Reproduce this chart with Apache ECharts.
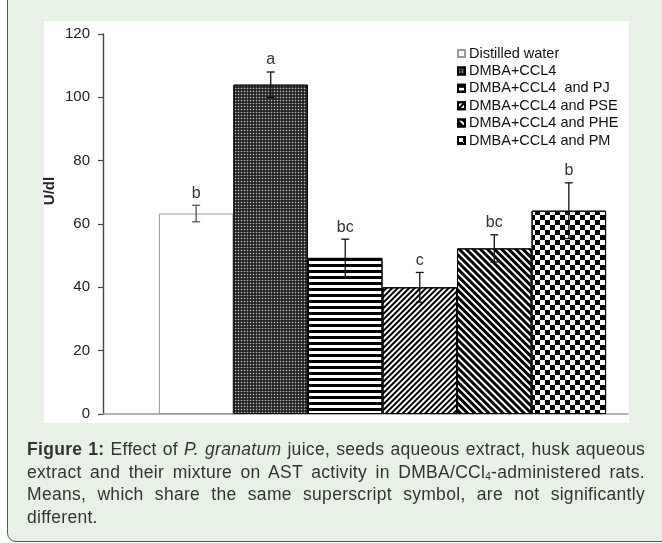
<!DOCTYPE html>
<html>
<head>
<meta charset="utf-8">
<script src="https://cdn.jsdelivr.net/npm/echarts@6/dist/echarts.min.js"></script>
<style>
  html, body { margin: 0; padding: 0; width: 662px; height: 543px; overflow: hidden; background: #ffffff; }
  #frame { position: absolute; left: 7px; top: -10px; width: 680px; height: 552px; box-sizing: border-box;
           border: 1.5px solid #5a5a5a; border-radius: 9px; background: #e8f1e6; }
  #panel { position: absolute; left: 44px; top: 21px; width: 585px; height: 402px; background: #ffffff; }
  #chart { position: absolute; left: 0; top: 0; width: 662px; height: 543px; }
  #caption { position: absolute; left: 27px; top: 438px; width: 618px; font-family: "Liberation Sans", Arial, sans-serif;
             font-size: 17.5px; letter-spacing: 0.3px; line-height: 22.7px; color: #333; }
  #caption .j { text-align: justify; text-align-last: justify; }
  #caption sub { font-size: 10px; line-height: 0; position: relative; top: 2px; vertical-align: baseline; }
</style>
</head>
<body>
<div id="frame"></div>
<div id="panel"></div>
<div id="chart"></div>
<div id="caption">
  <div class="j"><b>Figure 1:</b> Effect of <i>P. granatum</i> juice, seeds aqueous extract, husk aqueous</div>
  <div class="j">extract and their mixture on AST activity in DMBA/CCl<sub>4</sub>-administered rats.</div>
  <div class="j">Means, which share the same superscript symbol, are not significantly</div>
  <div>different.</div>
</div>
<script>
// ---- data ----
const groups = ['Distilled water', 'DMBA+CCL4', 'DMBA+CCL4  and PJ', 'DMBA+CCL4 and PSE', 'DMBA+CCL4 and PHE', 'DMBA+CCL4 and PM'];
const means = [63.3, 104.0, 49.3, 40.0, 52.3, 64.2];
const errors = [2.6, 4.0, 5.9, 4.7, 4.3, 8.8];
const letters = ['b', 'a', 'bc', 'c', 'bc', 'b'];
const yMin = 0, yMax = 120, yStep = 20;
const yAxisName = 'U/dl';

// ---- styles ----
const FONT = '"Liberation Sans", Arial, sans-serif';
const GAP = 0.2;
const styles = [
  { color: '#ffffff', borderColor: '#9a9a9a', borderWidth: 1 },
  { color: '#111111', borderColor: '#000', borderWidth: 1,
    decal: { symbol: 'rect', symbolSize: 0.55, dashArrayX: [3, 0], dashArrayY: [3, 0], color: '#b8b8b8' } },
  { color: '#ffffff', borderColor: '#000', borderWidth: 1,
    decal: { symbol: 'rect', symbolSize: 1, dashArrayX: [1, 0], dashArrayY: [2.7, 2.5], color: '#000' } },
  { color: '#ffffff', borderColor: '#000', borderWidth: 1,
    decal: { symbol: 'rect', symbolSize: 1, dashArrayX: [1, 0], dashArrayY: [1.6, 1.8], rotation: -Math.PI / 4, color: '#000' } },
  { color: '#ffffff', borderColor: '#000', borderWidth: 1,
    decal: { symbol: 'rect', symbolSize: 1, dashArrayX: [1, 0], dashArrayY: [2.2, 1.8], rotation: Math.PI / 4, color: '#000' } },
  { color: '#ffffff', borderColor: '#000', borderWidth: 1,
    decal: { symbol: 'rect', symbolSize: 1, dashArrayX: [[4.3, 4.3], [0, 4.3, 4.3, 0]], dashArrayY: [4.3, 0], color: '#000' } }
];

const chart = echarts.init(document.getElementById('chart'), null, { renderer: 'canvas' });

const barSeries = groups.map((name, i) => ({
  name: name,
  type: 'bar',
  xAxisIndex: 0, yAxisIndex: 0,
  barGap: '0%',
  barCategoryGap: (GAP * 100) + '%',
  itemStyle: styles[i],
  data: [means[i]],
  z: 2
}));

const errSeries = {
  name: 'err',
  type: 'custom',
  xAxisIndex: 0, yAxisIndex: 0,
  z: 5,
  data: means.map((m, i) => [0, m, errors[i]]),
  encode: { x: 0, y: 1 },
  renderItem: function (params, api) {
    const idx = params.dataIndex;
    const m = api.value(1), e = api.value(2);
    const c = api.coord([0, m]);
    const band = api.size([1, 0])[0];
    const bw = band * (1 - GAP) / groups.length;
    const x = c[0] + (idx - (groups.length - 1) / 2) * bw;
    const yt = api.coord([0, m + e])[1];
    const yb = api.coord([0, m - e])[1];
    const col = idx === 0 ? '#555' : '#111';
    const ls = { stroke: col, lineWidth: 1.3 };
    return {
      type: 'group',
      children: [
        { type: 'line', shape: { x1: x, y1: yt, x2: x, y2: yb }, style: ls },
        { type: 'line', shape: { x1: x - 4, y1: yt, x2: x + 4, y2: yt }, style: ls },
        { type: 'line', shape: { x1: x - 4, y1: yb, x2: x + 4, y2: yb }, style: ls },
        { type: 'text', x: x, y: yt - 4, style: { text: letters[idx], align: 'center', verticalAlign: 'bottom',
          fontSize: 16, fontFamily: FONT, fill: '#333' } }
      ]
    };
  }
};

const option = {
  animation: false,
  backgroundColor: 'transparent',
  textStyle: { fontFamily: FONT },
  grid: [
    { left: 103, right: -10, top: 34, bottom: 129 },
    { left: 103, right: 34, top: 34, bottom: 129 }
  ],
  legend: {
    data: groups,
    orient: 'vertical',
    left: 457, top: 46,
    padding: 0,
    itemWidth: 7, itemHeight: 7,
    itemGap: 2.4,
    icon: 'rect',
    textStyle: { fontSize: 14.5, color: '#111', fontFamily: FONT, lineHeight: 14, padding: [0, 0, 0, -1] },
    selectedMode: false
  },
  xAxis: [
    { type: 'category', gridIndex: 0, data: [''], axisLine: { show: false }, axisTick: { show: false }, axisLabel: { show: false } },
    { type: 'category', gridIndex: 1, data: [''], axisLine: { show: true, lineStyle: { color: '#9a9a9a', width: 1.6 } },
      axisTick: { show: false }, axisLabel: { show: false } }
  ],
  yAxis: [
    { type: 'value', gridIndex: 0, min: yMin, max: yMax, interval: yStep,
      axisLine: { show: true, lineStyle: { color: '#444', width: 1.4 } },
      axisTick: { show: true, inside: false, length: 5, lineStyle: { color: '#444', width: 1.2 } },
      splitLine: { show: false },
      axisLabel: { fontSize: 15, color: '#222', margin: 13, fontFamily: FONT } },
    { type: 'value', gridIndex: 1, min: yMin, max: yMax, show: false }
  ],
  graphic: [
    { type: 'text', x: 50, y: 191, rotation: Math.PI / 2,
      style: { text: yAxisName, align: 'center', verticalAlign: 'middle', fontSize: 15, fontWeight: 'bold', fill: '#222', fontFamily: FONT } }
  ],
  series: barSeries.concat([errSeries])
};
chart.setOption(option);
</script>
</body>
</html>
